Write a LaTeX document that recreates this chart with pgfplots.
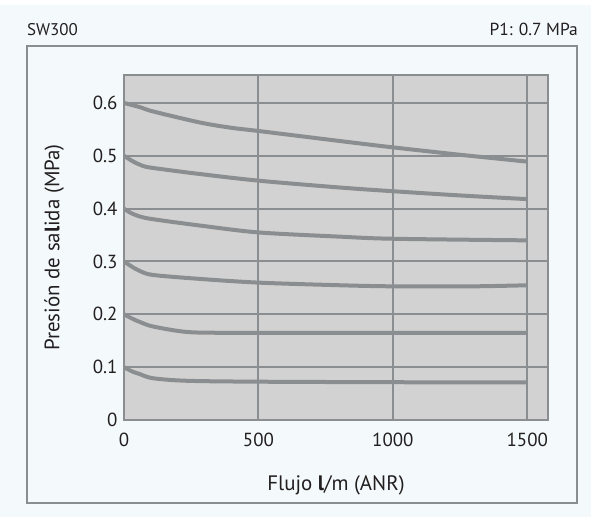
\documentclass[border=0pt]{standalone}
\usepackage{fontspec}
\setmainfont{PT Sans}
\usepackage{pgfplots}
\pgfplotsset{compat=1.18}
\definecolor{bgc}{HTML}{F4FAFB}
\definecolor{plotbg}{HTML}{D2D2D2}
\definecolor{lc}{HTML}{8A8E90}
\definecolor{txt}{HTML}{231F20}
\begin{document}
\begin{tikzpicture}[x=1bp,y=1bp]
\fill[white] (0,0) rectangle (591,517);
\fill[bgc] (0,0) rectangle (591,512);
\draw[lc,line width=1.6bp] (27,14) rectangle (577,471);
\node[anchor=base west,font=\fontsize{17}{20}\selectfont,text=txt,inner sep=0] at (27,481) {SW300};
\node[anchor=base east,font=\fontsize{17.5}{20}\selectfont,text=txt,inner sep=0] at (578,481) {P1: 0.7 MPa};
\begin{axis}[
  at={(124bp,97bp)}, anchor=south west,
  scale only axis, width=424bp, height=345bp,
  xmin=0, xmax=1577, ymin=0, ymax=0.653,
  xtick={0,500,1000,1500}, ytick={0,0.1,0.2,0.3,0.4,0.5,0.6},
  xticklabels={0,500,1000,1500},
  yticklabels={0,0.1,0.2,0.3,0.4,0.5,0.6},
  scaled y ticks=false,
  /pgf/number format/1000 sep={},
  /pgf/number format/assume math mode=true,
  axis background/.style={fill=plotbg},
  axis line style={lc,line width=2.2bp},
  grid=major, major grid style={lc,line width=2bp},
  tick style={draw=none},
  tick label style={font=\fontsize{19}{22}\selectfont,text=txt},
  xticklabel style={yshift=-10bp},
  yticklabel style={xshift=-3bp},
  xlabel={Flujo \textbf{l}/m (ANR)}, ylabel={Presión de sa\textbf{l}ida (MPa)},
  label style={font=\fontsize{21}{24}\selectfont,text=txt},
  xlabel style={yshift=-22bp},
  ylabel style={yshift=22bp},
  clip=true,
]
\addplot[lc,line width=4bp,smooth] coordinates {(0,0.6)(60,0.592)(108,0.584)(283,0.563)(400,0.553)(500,0.547)(803,0.528)(1000,0.516)(1250,0.502)(1500,0.489)};
\addplot[lc,line width=4bp,smooth] coordinates {(0,0.5)(35,0.489)(70,0.481)(108,0.477)(283,0.4655)(500,0.453)(803,0.44)(1000,0.433)(1250,0.425)(1500,0.418)};
\addplot[lc,line width=4bp,smooth] coordinates {(0,0.4)(25,0.392)(60,0.385)(108,0.38)(283,0.368)(500,0.355)(803,0.347)(1000,0.343)(1500,0.34)};
\addplot[lc,line width=4bp,smooth] coordinates {(0,0.3)(30,0.29)(59,0.282)(108,0.2745)(283,0.267)(500,0.26)(803,0.255)(1000,0.253)(1300,0.253)(1500,0.255)};
\addplot[lc,line width=4bp,smooth] coordinates {(0,0.2)(30,0.192)(59,0.1855)(108,0.177)(234,0.1666)(400,0.165)(800,0.165)(1500,0.165)};
\addplot[lc,line width=4bp,smooth] coordinates {(0,0.1)(30,0.092)(59,0.0868)(108,0.079)(234,0.0742)(500,0.0725)(1000,0.0715)(1500,0.071)};
\end{axis}
\end{tikzpicture}
\end{document}
